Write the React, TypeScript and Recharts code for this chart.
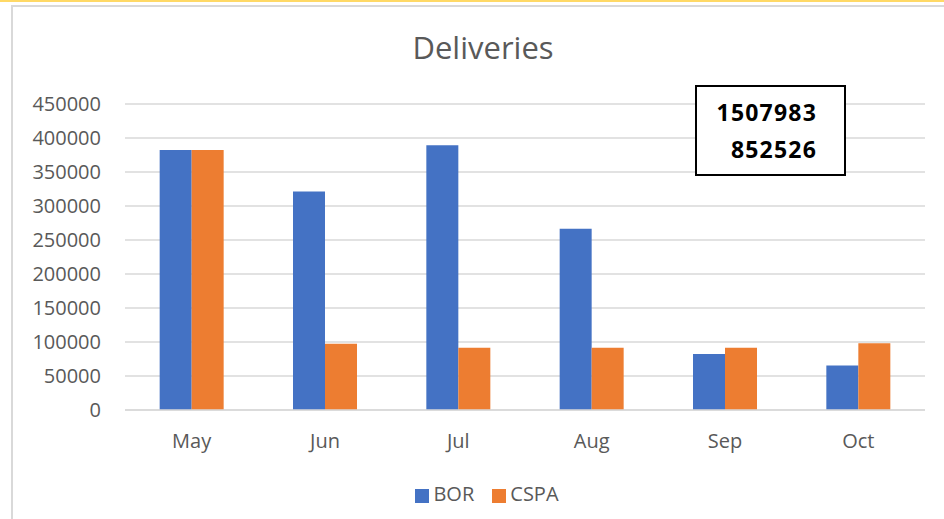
import React from "react";
import { BarChart, Bar, XAxis, YAxis, CartesianGrid, Legend } from "recharts";

const months = ["May", "Jun", "Jul", "Aug", "Sep", "Oct"];
const bor = [382500, 321500, 389500, 266500, 82500, 65483];
const cspa = [382500, 97500, 91500, 91500, 91500, 98026];
const yTicks = [0, 50000, 100000, 150000, 200000, 250000, 300000, 350000, 400000, 450000];
const totals = ["1507983", "852526"];

const data = months.map((m, i) => ({ month: m, BOR: bor[i], CSPA: cspa[i] }));

const FONT = "'Open Sans', 'Liberation Sans', sans-serif";
const TXT = "#595959";

export default function App() {
  return (
    <div style={{ position: "absolute", left: 0, top: 0, width: 944, height: 519, background: "#fff", overflow: "hidden", fontFamily: FONT }}>
      <div style={{ position: "absolute", left: 0, top: 0, width: 944, height: 2, background: "#FFD966" }} />
      <div style={{ position: "absolute", left: 11, top: 5, width: 940, height: 520, borderLeft: "2px solid #D9D9D9", borderTop: "2px solid #D9D9D9" }} />
      <div style={{ position: "absolute", left: 0, top: 0 }}>
        <BarChart width={944} height={519} data={data} margin={{ top: 104, right: 19, left: 10, bottom: 0 }} barCategoryGap="26%" barGap={0}>
          <CartesianGrid vertical={false} stroke="#D9D9D9" strokeWidth={1.5} />
          <XAxis
            dataKey="month"
            height={109}
            tickLine={false}
            axisLine={{ stroke: "#D9D9D9", strokeWidth: 1.5 }}
            tickMargin={18}
            tick={{ fill: TXT, fontSize: 20, fontFamily: FONT }}
          />
          <YAxis
            width={115}
            domain={[0, 450000]}
            ticks={yTicks}
            interval={0}
            tickLine={false}
            axisLine={false}
            tickMargin={18}
            tick={{ fill: TXT, fontSize: 20, fontFamily: FONT }}
          />
          <Legend
            layout="horizontal"
            verticalAlign="middle"
            align="center"
            iconType="square"
            iconSize={14}
            wrapperStyle={{ top: 480, left: 24, width: 944, fontFamily: FONT, fontSize: 20 }}
            formatter={(v: string) => <span style={{ color: TXT, marginRight: 8 }}>{v}</span>}
          />
          <Bar dataKey="BOR" fill="#4472C4" isAnimationActive={false} />
          <Bar dataKey="CSPA" fill="#ED7D31" isAnimationActive={false} />
        </BarChart>
      </div>
      <div style={{ position: "absolute", left: 0, top: 27, width: 966, textAlign: "center", fontSize: 31, color: TXT, lineHeight: "40px" }}>
        Deliveries
      </div>
      <div style={{ position: "absolute", left: 695, top: 85, width: 147, height: 87, border: "2px solid #000", background: "#fff" }} />
      <div style={{ position: "absolute", left: 695, top: 96, width: 122, textAlign: "right", fontSize: 23, fontWeight: 700, letterSpacing: 1.2, color: "#000", lineHeight: "32px" }}>
        {totals[0]}
      </div>
      <div style={{ position: "absolute", left: 695, top: 133, width: 122, textAlign: "right", fontSize: 23, fontWeight: 700, letterSpacing: 1.2, color: "#000", lineHeight: "32px" }}>
        {totals[1]}
      </div>
    </div>
  );
}
